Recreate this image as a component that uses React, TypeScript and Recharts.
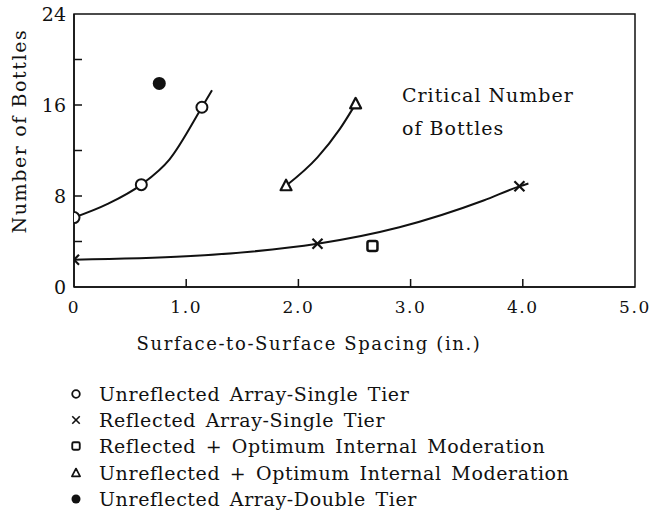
import React from "react";
import {
  ComposedChart,
  XAxis,
  YAxis,
  Line,
  Scatter,
  ReferenceArea,
} from "recharts";

// marker readings
const unreflectedSingle = [
  { x: 0, y: 6.1 },
  { x: 0.6, y: 9.0 },
  { x: 1.14, y: 15.8 },
];
const reflectedSingle = [
  { x: 0, y: 2.4 },
  { x: 2.17, y: 3.8 },
  { x: 3.97, y: 8.85 },
];
const reflectedModerated = [{ x: 2.66, y: 3.6 }];
const unreflectedModerated = [
  { x: 1.89, y: 8.9 },
  { x: 2.51, y: 16.1 },
];
const unreflectedDouble = [{ x: 0.76, y: 17.9 }];

// hand-drawn fit curves
const unreflectedSingleCurve = [
  { x: 0, y: 6.1 },
  { x: 0.3, y: 7.3 },
  { x: 0.6, y: 9.0 },
  { x: 0.85, y: 11.2 },
  { x: 1.14, y: 15.8 },
  { x: 1.23, y: 17.3 },
];
const reflectedSingleCurve = [
  { x: 0, y: 2.4 },
  { x: 1.0, y: 2.7 },
  { x: 1.57, y: 3.1 },
  { x: 2.17, y: 3.8 },
  { x: 2.9, y: 5.25 },
  { x: 3.65, y: 7.6 },
  { x: 3.97, y: 8.85 },
  { x: 4.05, y: 9.1 },
];
const unreflectedModeratedCurve = [
  { x: 1.89, y: 8.9 },
  { x: 2.17, y: 11.4 },
  { x: 2.37, y: 13.9 },
  { x: 2.51, y: 16.1 },
];

const xTicks = [0, 1, 2, 3, 4, 5];
const xTickLabels = ["0", "1.0", "2.0", "3.0", "4.0", "5.0"];
const yTicks = [0, 4, 8, 12, 16, 20, 24];
const yTickLabels = ["0", "", "8", "", "16", "", "24"];

const legendItems = [
  "Unreflected Array-Single Tier",
  "Reflected Array-Single Tier",
  "Reflected + Optimum Internal Moderation",
  "Unreflected + Optimum Internal Moderation",
  "Unreflected Array-Double Tier",
];

const FONT = "'DejaVu Serif', serif";
const INK = "#111";

const OpenCircle = (p: any) => (
  <circle cx={p.cx} cy={p.cy} r={5.5} fill="#fff" stroke={INK} strokeWidth={2} />
);
const FilledCircle = (p: any) => <circle cx={p.cx} cy={p.cy} r={6.5} fill={INK} />;
const XMark = (p: any) => (
  <g stroke={INK} strokeWidth={2.2}>
    <line x1={p.cx - 5} y1={p.cy - 5} x2={p.cx + 5} y2={p.cy + 5} />
    <line x1={p.cx - 5} y1={p.cy + 5} x2={p.cx + 5} y2={p.cy - 5} />
  </g>
);
const Square = (p: any) => (
  <rect x={p.cx - 5} y={p.cy - 5} width={10} height={10} rx={2} fill="#fff" stroke={INK} strokeWidth={2.5} />
);
const Triangle = (p: any) => (
  <path
    d={`M${p.cx},${p.cy - 6} L${p.cx + 5.5},${p.cy + 4.5} L${p.cx - 5.5},${p.cy + 4.5} Z`}
    fill="#fff"
    stroke={INK}
    strokeWidth={2.2}
    strokeLinejoin="round"
  />
);

const X_MARGIN = 14;
const XTick = (p: any) => {
  const v = p.payload.value;
  const axisY = p.y - X_MARGIN;
  const label = xTickLabels[xTicks.indexOf(v)];
  return (
    <g>
      {v > 0 && v < 5 && <line x1={p.x} y1={axisY} x2={p.x} y2={axisY - 8} stroke={INK} strokeWidth={1.5} />}
      <text x={p.x} y={p.y} dy="0.71em" textAnchor="middle" fontFamily={FONT} fontSize={17} letterSpacing={1.6} fill={INK}>
        {label}
      </text>
    </g>
  );
};

const Y_MARGIN = 8;
const YTick = (p: any) => {
  const v = p.payload.value;
  const axisX = p.x + Y_MARGIN;
  const label = yTickLabels[yTicks.indexOf(v)];
  return (
    <g>
      {v > 0 && v < 24 && <line x1={axisX} y1={p.y} x2={axisX + 8} y2={p.y} stroke={INK} strokeWidth={1.5} />}
      <text x={p.x} y={p.y} dy="0.36em" textAnchor="end" fontFamily={FONT} fontSize={19} fill={INK}>
        {label}
      </text>
    </g>
  );
};

const legendShapes = [OpenCircle, XMark, Square, Triangle, FilledCircle];

export default function App() {
  return (
    <div style={{ position: "absolute", left: 0, top: 0, width: 653, height: 513, background: "#fff" }}>
      <ComposedChart
        width={653}
        height={513}
        margin={{ top: 14, right: 18, bottom: 196, left: 14 }}
      >
        <XAxis
          type="number"
          dataKey="x"
          domain={[0, 5]}
          ticks={xTicks}
          allowDataOverflow
          tickSize={0}
          tickMargin={X_MARGIN}
          tick={<XTick />}
          height={30}
          axisLine={{ stroke: INK, strokeWidth: 1.5 }}
          label={{
            content: () => (
              <text x={309} y={350} textAnchor="middle" fontFamily={FONT} fontSize={18} letterSpacing={1.6} fill={INK}>
                Surface-to-Surface Spacing (in.)
              </text>
            ),
          }}
        />
        <YAxis
          type="number"
          dataKey="y"
          domain={[0, 24]}
          ticks={yTicks}
          allowDataOverflow
          tickSize={0}
          tickMargin={Y_MARGIN}
          tick={<YTick />}
          width={60}
          axisLine={{ stroke: INK, strokeWidth: 1.5 }}
          label={{
            content: () => (
              <text
                x={19}
                y={131}
                transform="rotate(-90 19 131)"
                dy="0.36em"
                textAnchor="middle"
                fontFamily={FONT}
                fontSize={19}
                letterSpacing={1.6}
                fill={INK}
              >
                Number of Bottles
              </text>
            ),
          }}
        />
        <ReferenceArea x1={0} x2={5} y1={0} y2={24} fill="none" stroke={INK} strokeWidth={1.5} ifOverflow="visible" />
        <Line data={unreflectedSingleCurve} dataKey="y" type="monotone" stroke={INK} strokeWidth={2} dot={false} isAnimationActive={false} />
        <Line data={reflectedSingleCurve} dataKey="y" type="monotone" stroke={INK} strokeWidth={2} dot={false} isAnimationActive={false} />
        <Line data={unreflectedModeratedCurve} dataKey="y" type="monotone" stroke={INK} strokeWidth={2} dot={false} isAnimationActive={false} />
        <Scatter data={unreflectedSingle} dataKey="y" shape={OpenCircle} isAnimationActive={false} />
        <Scatter data={reflectedSingle} dataKey="y" shape={XMark} isAnimationActive={false} />
        <Scatter data={reflectedModerated} dataKey="y" shape={Square} isAnimationActive={false} />
        <Scatter data={unreflectedModerated} dataKey="y" shape={Triangle} isAnimationActive={false} />
        <Scatter data={unreflectedDouble} dataKey="y" shape={FilledCircle} isAnimationActive={false} />
      </ComposedChart>
      <svg
        width={260}
        height={70}
        style={{ position: "absolute", left: 390, top: 76 }}
        fontFamily={FONT}
        fontSize={19}
        letterSpacing={1}
        fill={INK}
      >
        <text x={12} y={26}>Critical Number</text>
        <text x={12} y={59}>of Bottles</text>
      </svg>
      <div style={{ position: "absolute", left: 66, top: 381 }}>
        {legendItems.map((name, i) => {
          const Shape = legendShapes[i];
          return (
            <div key={name} style={{ display: "flex", alignItems: "center", height: 26.2 }}>
              <svg width={22} height={26}>
                {i === 4 ? (
                  <circle cx={10} cy={13} r={4.5} fill={INK} />
                ) : i === 0 ? (
                  <circle cx={10} cy={13} r={3.8} fill="#fff" stroke={INK} strokeWidth={1.8} />
                ) : (
                  <g transform="translate(10 13) scale(0.75) translate(-10 -13)">
                    <Shape cx={10} cy={13} />
                  </g>
                )}
              </svg>
              <span
                style={{
                  marginLeft: 11,
                  fontFamily: FONT,
                  fontSize: 19,
                  letterSpacing: 0.6,
                  wordSpacing: 3,
                  color: INK,
                  whiteSpace: "nowrap",
                }}
              >
                {name}
              </span>
            </div>
          );
        })}
      </div>
    </div>
  );
}
